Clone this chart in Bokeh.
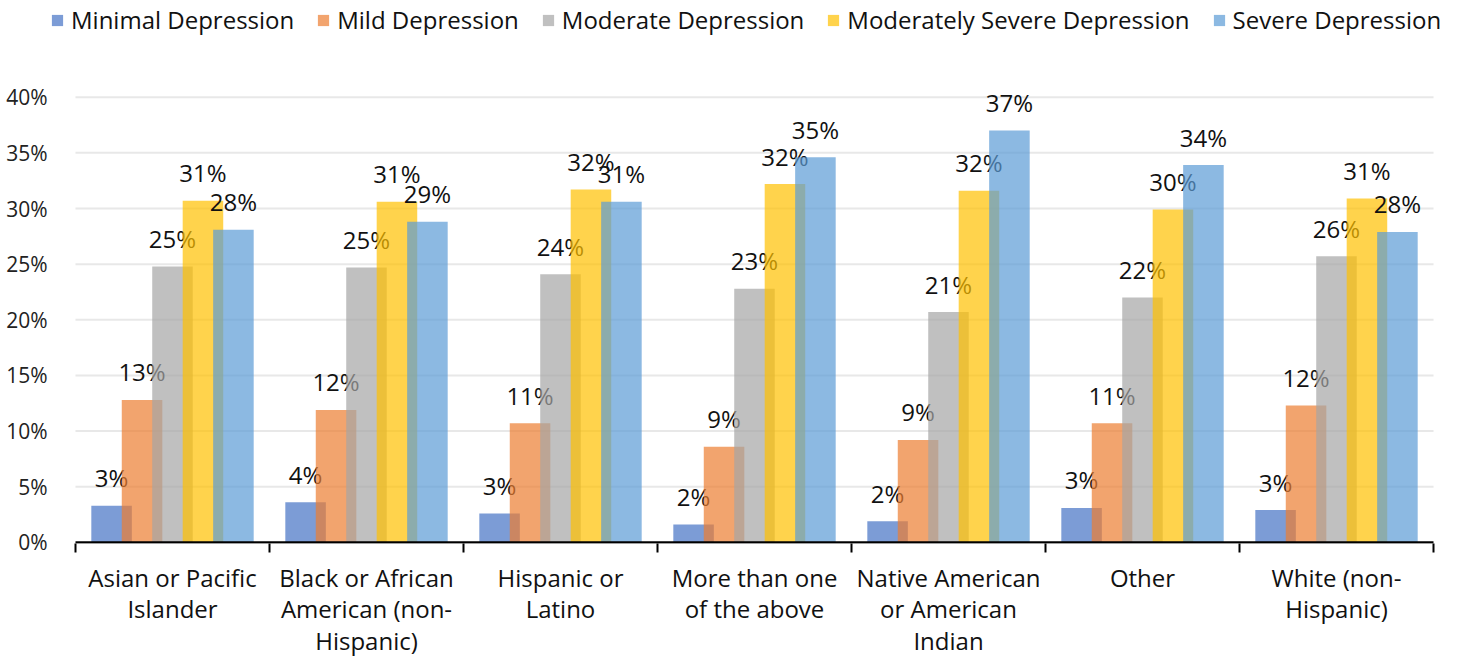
from bokeh.plotting import figure
from bokeh.models import Range1d, FixedTicker, Legend, LegendItem
from bokeh.core.properties import value
from bokeh.embed import file_html
from bokeh.resources import INLINE

categories = [
    "Asian or Pacific\nIslander",
    "Black or African\nAmerican (non-\nHispanic)",
    "Hispanic or\nLatino",
    "More than one\nof the above",
    "Native American\nor American\nIndian",
    "Other",
    "White (non-\nHispanic)",
]
series_names = [
    "Minimal Depression",
    "Mild Depression",
    "Moderate Depression",
    "Moderately Severe Depression",
    "Severe Depression",
]
colors = ["#4472C4", "#ED7D31", "#A5A5A5", "#FFC000", "#5B9BD5"]

minimal = [3.3, 3.6, 2.6, 1.6, 1.9, 3.1, 2.9]
mild = [12.8, 11.9, 10.7, 8.6, 9.2, 10.7, 12.3]
moderate = [24.8, 24.7, 24.1, 22.8, 20.7, 22.0, 25.7]
mod_severe = [30.7, 30.6, 31.7, 32.2, 31.6, 29.9, 30.9]
severe = [28.1, 28.8, 30.6, 34.6, 37.0, 33.9, 27.9]
series_values = [minimal, mild, moderate, mod_severe, severe]

y_ticks = [0, 5, 10, 15, 20, 25, 30, 35, 40]
y_tick_labels = ["0%", "5%", "10%", "15%", "20%", "25%", "30%", "35%", "40%"]

FONT = "Open Sans"
n = len(categories)
step = 0.157
bar_w = 0.209
px_per_cat = 194.0      # screen pixels per category slot
px_per_pct = 11.13      # screen pixels per percentage point
pad_left_px, pad_right_px = 25, 7
y_top = 48.6
y_bottom = -0.1

p = figure(
    frame_width=int(round(n * px_per_cat + pad_left_px + pad_right_px)),
    frame_height=int(round((y_top - y_bottom) * px_per_pct)),
    x_range=Range1d(-pad_left_px / px_per_cat, n + pad_right_px / px_per_cat),
    y_range=Range1d(y_bottom, y_top),
    output_backend="svg", toolbar_location=None,
    min_border_left=50, min_border_right=22, min_border_top=1, min_border_bottom=112,
)
p.outline_line_color = None
p.grid.visible = False

# horizontal gridlines across the category area only
grid_y = y_ticks[1:]
p.segment(x0=[0] * len(grid_y), x1=[n] * len(grid_y), y0=grid_y, y1=grid_y,
          line_color="#e8e8e8", line_width=2)

renderers = []
for i, (vals, col) in enumerate(zip(series_values, colors)):
    xs = [j + 0.5 + (i - 2) * step for j in range(n)]
    r = p.vbar(x=xs, top=vals, width=bar_w, fill_color=col, fill_alpha=0.7, line_color=None)
    renderers.append(r)
    p.text(x=xs, y=vals, text=[f"{int(v + 0.5)}%" for v in vals],
           text_align="center", text_baseline="alphabetic", y_offset=-28,
           text_font=value(FONT), text_font_size="24px", text_color="#111111")

# category axis baseline
p.segment(x0=[0], x1=[n], y0=[0], y1=[0], line_color="black", line_width=2.5)

xa = p.xaxis[0]
xa.ticker = FixedTicker(ticks=[j + 0.5 for j in range(n)], minor_ticks=list(range(n + 1)))
xa.major_label_overrides = {j + 0.5: c for j, c in enumerate(categories)}
xa.axis_line_color = None
xa.major_tick_out = 0
xa.major_tick_in = 0
xa.minor_tick_out = 9
xa.minor_tick_in = 0
xa.minor_tick_line_color = "black"
xa.minor_tick_line_width = 2
xa.major_label_text_font = FONT
xa.major_label_text_font_size = "24px"
xa.major_label_text_line_height = 0.96
xa.major_label_text_color = "#111111"
xa.major_label_standoff = 8

ya = p.yaxis[0]
ya.ticker = FixedTicker(ticks=y_ticks)
ya.major_label_overrides = {t: l for t, l in zip(y_ticks, y_tick_labels)}
ya.axis_line_color = None
ya.major_tick_line_color = None
ya.minor_tick_line_color = None
ya.major_tick_out = 0
ya.major_tick_in = 0
ya.minor_tick_out = 0
ya.minor_tick_in = 0
ya.major_label_text_font = FONT
ya.major_label_text_font_size = "21px"
ya.major_label_text_color = "#222222"
ya.major_label_standoff = 3

legend = Legend(
    items=[LegendItem(label=nm, renderers=[r]) for nm, r in zip(series_names, renderers)],
    orientation="horizontal", location=(0, 507),
    label_text_font=FONT, label_text_font_size="24px", label_text_color="#111111",
    glyph_width=14, glyph_height=14, label_standoff=7, spacing=22,
    padding=0, margin=0, border_line_color=None, background_fill_alpha=0,
)
p.add_layout(legend, "center")

open("out.html", "w").write(file_html(p, INLINE))
